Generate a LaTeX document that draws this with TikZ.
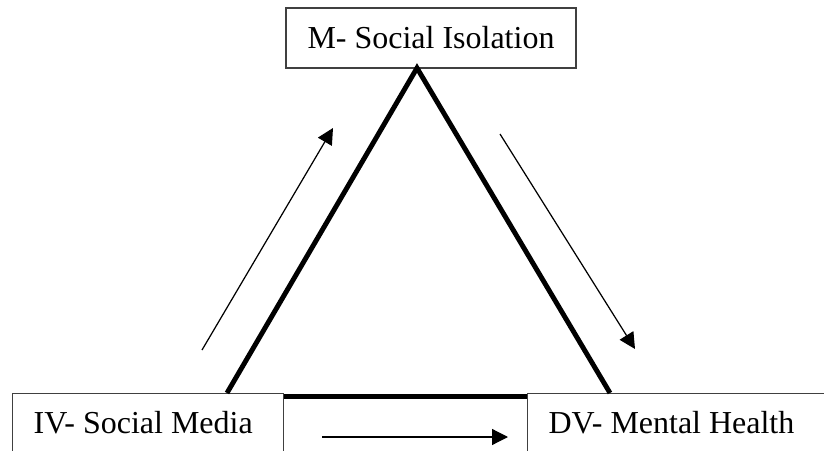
\documentclass[tikz,border=0pt]{standalone}
\usepackage{fontspec}
\setmainfont{Liberation Serif}
\usetikzlibrary{arrows.meta}

\tikzset{
    varbox/.style={draw=black!75, line width=0.7pt, font=\fontsize{18.2}{22}\selectfont},
    lowbox/.style={varbox, anchor=north west, inner xsep=0.42cm, inner ysep=0pt,
        text height=0.8cm, text depth=1cm},
    side/.style={line width=2.8pt},
    flow/.style={line width=0.7pt, -{Triangle[length=0.32cm, width=0.32cm]}}
}

\begin{document}
\begin{tikzpicture}
    \path[use as bounding box, clip] (0, 0) rectangle (16.48, 9);

    % Variable boxes
    \node[varbox, minimum width=5.8cm, minimum height=1.2cm] (m) at (8.62, 8.24) {M- Social Isolation};
    \node[lowbox] (iv) at (0.24, 1.14) {\makebox[4.58cm][l]{IV- Social Media}};
    \node[lowbox] (dv) at (10.54, 1.14) {\makebox[6cm][l]{DV- Mental Health}};

    % Triangle corners
    \coordinate (apex) at (8.34, 7.64);
    \coordinate (leftfoot) at (4.54, 1.14);
    \coordinate (rightfoot) at (12.2, 1.14);

    % Triangle sides
    \draw[side] (leftfoot) -- (apex) -- (rightfoot);
    \draw[side] ([yshift=-0.07cm]iv.north east) -- ([yshift=-0.07cm]dv.north west);

    % Arrow ends
    \coordinate (ivstart) at (4.04, 2.0);
    \coordinate (mend) at (6.66, 6.44);
    \coordinate (mstart) at (10.0, 6.32);
    \coordinate (dvend) at (12.7, 2.02);
    \coordinate (directstart) at (6.44, 0.26);
    \coordinate (directend) at (10.16, 0.26);

    % Path arrows
    \draw[flow] (ivstart) -- (mend);
    \draw[flow] (mstart) -- (dvend);
    \draw[flow] (directstart) -- (directend);
\end{tikzpicture}
\end{document}
